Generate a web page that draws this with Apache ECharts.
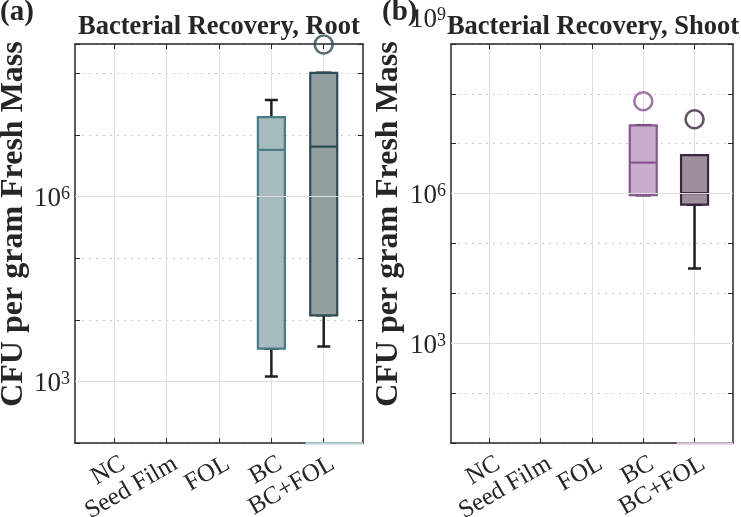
<!DOCTYPE html>
<html>
<head>
<meta charset="utf-8">
<script src="https://cdn.jsdelivr.net/npm/echarts@6/dist/echarts.min.js"></script>
<style>
  html, body { margin: 0; padding: 0; background: #fff; }
  #chart { width: 741px; height: 517px; }
</style>
</head>
<body>
<div id="chart"></div>
<script>
const categories = ['NC', 'Seed Film', 'FOL', 'BC', 'BC+FOL']

// [position, min, Q1, median, Q3, max]
const rootBoxes = [
  [4, 1.2e3, 3.4e3, 5.75e6, 1.95e7, 3.7e7],
  [5, 3.7e3, 1.18e4, 6.45e6, 1.02e8, 1.02e8]
]
const rootOutliers = [[5, 2.95e8]]

const shootBoxes = [
  [4, 9.3e5, 9.3e5, 4.17e6, 2.34e7, 2.34e7],
  [5, 3.16e4, 6.0e5, 1.02e6, 5.9e6, 5.9e6]
]
const shootOutliers = [[4, 7.1e7], [5, 3.1e7]]

const rootTickLabels = [1e3, 1e6]
const shootTickLabels = [1e3, 1e6, 1e9]

const serif = 'Liberation Serif'
const ink = '#262626'

const chart = echarts.init(document.getElementById('chart'))

function expFormatter(ticks) {
  return v => {
    const l = Math.log10(v)
    const e = Math.round(l)
    if (Math.abs(l - e) > 1e-6 || ticks.indexOf(Math.pow(10, e)) < 0) return ''
    // the top label sits above the frame corner, as in the source figure
    return e === 9 ? '{b|10}{s|9}\n{gap| }' : '{b|10}{s|' + e + '}'
  }
}

function buildPanel(p, cfg) {
  const xBase = {
    type: 'value', gridIndex: p, min: 0.25, max: 5.75,
    axisLine: { show: true, onZero: false, lineStyle: { color: ink, width: 1.5 } },
    axisTick: { show: true, inside: true, length: 5, customValues: [1, 2, 3, 4, 5], lineStyle: { color: ink, width: 1 } }
  }
  const yBase = {
    type: 'log', logBase: 10, gridIndex: p, min: cfg.yMin, max: cfg.yMax,
    axisLine: { show: true, onZero: false, lineStyle: { color: ink, width: 1.5 } },
    axisTick: { show: true, inside: true, length: 5, lineStyle: { color: ink, width: 1 } }
  }
  const xAxes = [
    Object.assign({}, xBase, {
      position: 'bottom',
      splitLine: { show: true, lineStyle: { color: '#e0e0e0', width: 1 } },
      axisLabel: {
        show: true, rotate: 30, margin: 19,
        customValues: categories.map((c, i) => i + 1.17),
        formatter: v => categories[Math.round(v - 0.17) - 1],
        fontFamily: serif, fontSize: 25, color: ink
      }
    }),
    Object.assign({}, xBase, { position: 'top', splitLine: { show: false }, axisLabel: { show: false } })
  ]
  const yAxes = [
    Object.assign({}, yBase, {
      position: 'left',
      splitLine: { show: true, lineStyle: { color: '#c9c9c9', width: 1, type: [2, 5] } },
      axisLabel: {
        show: true, margin: 5, padding: [8, 0, 0, 0],
        formatter: expFormatter(cfg.tickLabels),
        rich: {
          b: { fontFamily: serif, fontSize: 27, lineHeight: 30, color: ink, verticalAlign: 'top' },
          s: { fontFamily: serif, fontSize: 18, lineHeight: 18, color: ink, verticalAlign: 'top' },
          gap: { fontFamily: serif, fontSize: 10, lineHeight: 54 }
        }
      }
    }),
    Object.assign({}, yBase, { position: 'right', splitLine: { show: false }, axisLabel: { show: false } })
  ]

  const series = [
    {
      // whiskers + caps (black)
      type: 'boxplot', xAxisIndex: 2 * p + 1, yAxisIndex: 2 * p, z: 3,
      boxWidth: [13, 13], silent: true, animation: false,
      itemStyle: { color: 'rgba(0,0,0,0)', borderColor: '#1f1f1f', borderWidth: 2.5 },
      data: cfg.boxes.map(b => b.slice()),
      markLine: {
        silent: true, symbol: ['none', 'none'], label: { show: false }, animation: false,
        lineStyle: { color: '#dedede', width: 1, type: 'solid' },
        data: cfg.tickLabels.filter(t => t < cfg.yMax).map(t => ({ yAxis: t }))
      }
    },
    {
      // boxes
      type: 'boxplot', xAxisIndex: 2 * p, yAxisIndex: 2 * p, z: 4,
      boxWidth: [27, 27], silent: true, animation: false,
      data: cfg.boxes.map((b, i) => ({
        value: [b[0], b[2], b[2], b[3], b[4], b[4]],
        itemStyle: { color: cfg.fills[i], borderColor: cfg.edges[i], borderWidth: 2.2 }
      }))
    },
    {
      type: 'scatter', xAxisIndex: 2 * p, yAxisIndex: 2 * p, z: 5,
      symbol: 'circle', symbolSize: 18, silent: true, animation: false,
      data: cfg.outliers.map((o, i) => ({
        value: o,
        itemStyle: { color: 'rgba(0,0,0,0)', borderColor: cfg.outlierColors[i], borderWidth: 2.6 }
      })),
      markLine: {
        silent: true, symbol: ['none', 'none'], label: { show: false }, animation: false,
        lineStyle: { color: cfg.strip, width: 2.5, type: 'solid' },
        data: [[{ coord: [4.65, cfg.yMin] }, { coord: [5.75, cfg.yMin] }]]
      }
    }
  ]
  return { xAxes, yAxes, series }
}

const left = buildPanel(0, {
  yMin: 100, yMax: 3.0e8, tickLabels: rootTickLabels,
  boxes: rootBoxes, outliers: rootOutliers,
  fills: ['#a7bbbf', '#949fa2'], edges: ['#4b7b85', '#2f4b53'],
  outlierColors: ['#2f4b53'], strip: '#bcd7da'
})
const right = buildPanel(1, {
  yMin: 10, yMax: 1e9, tickLabels: shootTickLabels,
  boxes: shootBoxes, outliers: shootOutliers,
  fills: ['#c8aecb', '#9d8f9c'], edges: ['#8a5590', '#3f2541'],
  outlierColors: ['#8a5590', '#3f2541'], strip: '#dcc8dd'
})

const boldText = (text, x, y, size, align, rotation) => ({
  type: 'text', x, y, rotation: rotation || 0, silent: true,
  style: { text, fontFamily: serif, fontWeight: 'bold', fontSize: size, fill: ink, align: align, verticalAlign: 'middle' }
})

chart.setOption({
  animation: false,
  backgroundColor: '#ffffff',
  grid: [
    { left: 75, top: 44, width: 288, height: 399, outerBoundsMode: 'none' },
    { left: 451, top: 44, width: 282, height: 399, outerBoundsMode: 'none' }
  ],
  xAxis: left.xAxes.concat(right.xAxes),
  yAxis: left.yAxes.concat(right.yAxes),
  series: left.series.concat(right.series),
  graphic: [
    boldText('Bacterial Recovery, Root', 219, 27, 26.5, 'center'),
    boldText('Bacterial Recovery, Shoot', 593, 27, 26.5, 'center'),
    boldText('(a)', 0, 13, 29, 'left'),
    boldText('(b)', 382, 13, 29, 'left'),
    boldText('CFU per gram Fresh Mass', 14, 224, 32, 'center', Math.PI / 2),
    boldText('CFU per gram Fresh Mass', 389, 224, 32, 'center', Math.PI / 2)
  ]
})
</script>
</body>
</html>
